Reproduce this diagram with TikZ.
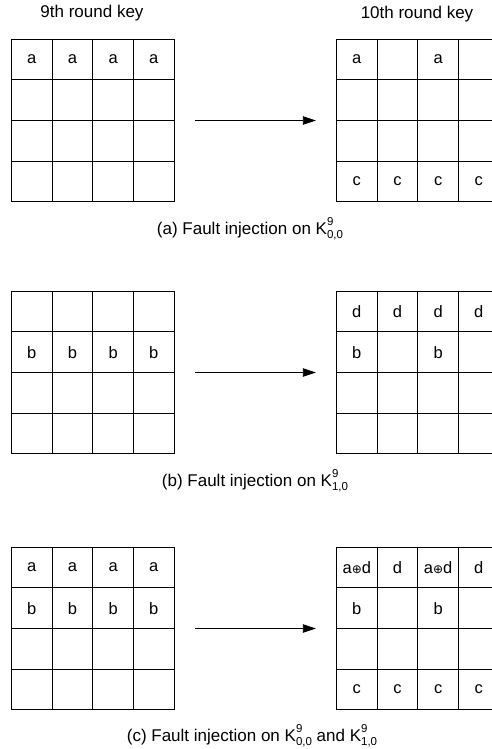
\documentclass[tikz,border=0pt]{standalone}
\usepackage{fontspec}
\setmainfont{Liberation Sans}
\newfontfamily\symfnt{DejaVu Sans}
\usetikzlibrary{arrows.meta,fit}
\newcommand{\Kidx}[2]{K\rlap{\raisebox{0.5em}{\fontsize{11.5}{12}\selectfont #1}}\raisebox{-0.28em}{\fontsize{11.5}{12}\selectfont #2}}
\newcommand{\xorsym}{{\symfnt\fontsize{12}{12}\selectfont ⊕}}
\tikzset{
  cell/.style={draw=black, line width=1pt, minimum width=40.65pt, minimum height=40.65pt, inner sep=0pt, anchor=north west, font=\fontsize{16.5}{18}\selectfont},
  gridbox/.style={inner sep=0pt},
  arr/.style={-{Triangle[length=13pt,width=8.5pt]}, line width=0.9pt, shorten <=20.3pt, shorten >=20pt},
  lbl/.style={font=\fontsize{17}{19}\selectfont, inner sep=0pt}
}
% #1 name, #2 x, #3 y, #4 labels (16 entries, row by row)
\newcommand{\keygrid}[4]{%
  \foreach [count=\i from 0] \t in {#4} {%
    \pgfmathtruncatemacro{\rr}{int(\i/4)+1}%
    \pgfmathtruncatemacro{\cc}{mod(\i,4)+1}%
    \node[cell] (#1-\rr-\cc) at ({#2+(\cc-1)*40.65}, {#3+(\rr-1)*40.65}) {\t};
  }%
  \node[gridbox, fit=(#1-1-1)(#1-4-4)] (#1) {};
}
\begin{document}
\begin{tikzpicture}[x=1pt,y=-1pt]
\useasboundingbox (0,0) rectangle (492,749);
\node[lbl] (t9) at (92,13) {9th round key};
\node[lbl] (t10) at (417,14) {10th round key};

% (a)
\keygrid{L1}{11}{38.7}{a,a,a,a,{},{},{},{},{},{},{},{},{},{},{},{}}
\keygrid{R1}{336}{38.7}{a,{},a,{},{},{},{},{},{},{},{},{},c,c,c,c}
\draw[arr] (L1.east) -- (R1.west);
\node[lbl] (capa) at (250,229) {(a) Fault injection on \Kidx{9}{0,0}};

% (b)
\keygrid{L2}{11}{290.7}{{},{},{},{},b,b,b,b,{},{},{},{},{},{},{},{}}
\keygrid{R2}{336}{290.7}{d,d,d,d,b,{},b,{},{},{},{},{},{},{},{},{}}
\draw[arr] (L2.east) -- (R2.west);
\node[lbl] (capb) at (255,481) {(b) Fault injection on \Kidx{9}{1,0}};

% (c)
\keygrid{L3}{11}{546.7}{a,a,a,a,b,b,b,b,{},{},{},{},{},{},{},{}}
\keygrid{R3}{336}{546.7}{a\xorsym d,d,a\xorsym d,d,b,{},b,{},{},{},{},{},c,c,c,c}
\draw[arr] (L3.east) -- (R3.west);
\node[lbl] (capc) at (252,736) {(c) Fault injection on \Kidx{9}{0,0} and \Kidx{9}{1,0}};
\end{tikzpicture}
\end{document}
